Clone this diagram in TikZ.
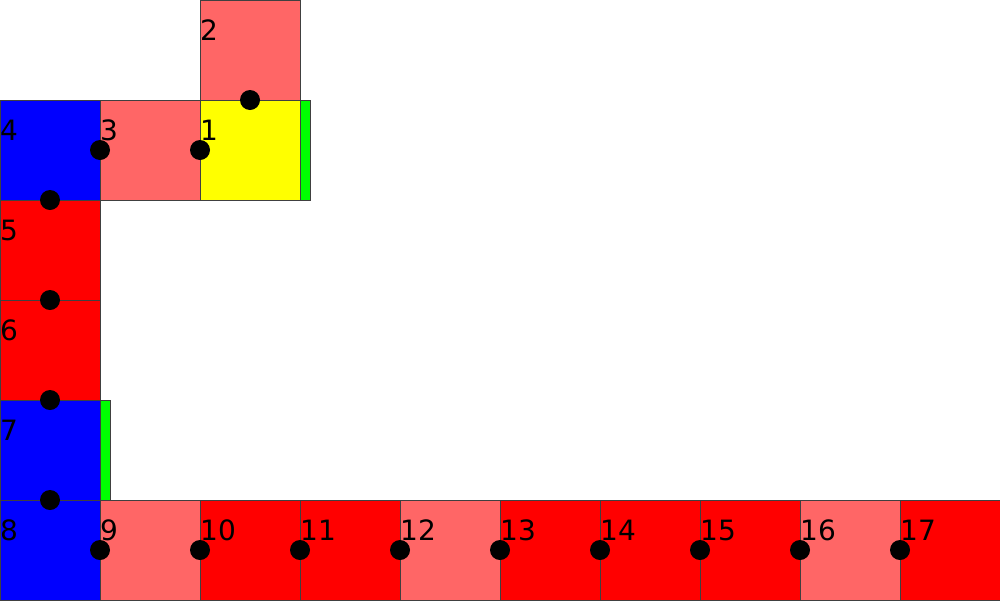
\documentclass[tikz,border=0pt]{standalone}
\usepackage{fontspec}
\setmainfont{DejaVu Sans}
\definecolor{lred}{HTML}{FF6666}
\definecolor{fred}{HTML}{FF0000}
\definecolor{fblue}{HTML}{0000FF}
\definecolor{fyel}{HTML}{FFFF00}
\definecolor{fgrn}{HTML}{00FF00}
\tikzset{
  cell/.style={draw=black!75, line width=1pt, minimum size=100pt, inner sep=0pt, outer sep=0pt, anchor=north west},
  bar/.style={draw=black!75, line width=1pt, minimum width=10pt, minimum height=100pt, inner sep=0pt, anchor=north west, fill=fgrn},
  lbl/.style={anchor=base west, inner sep=0pt, font=\fontsize{28}{30}\selectfont},
  dot/.style={circle, fill=black, minimum size=20pt, inner sep=0pt}
}
\begin{document}
\begin{tikzpicture}[x=1pt,y=-1pt]
\useasboundingbox (0,0) rectangle (1000,600);
% cells
\node[cell, fill=lred]  (c2) at (200,0) {};
\node[cell, fill=fblue] (c4) at (0,100) {};
\node[cell, fill=lred]  (c3) at (100,100) {};
\node[cell, fill=fyel]  (c1) at (200,100) {};
\node[bar] (g1) at (300,100) {};
\node[cell, fill=fred]  (c5) at (0,200) {};
\node[cell, fill=fred]  (c6) at (0,300) {};
\node[cell, fill=fblue] (c7) at (0,400) {};
\node[bar] (g7) at (100,400) {};
\node[cell, fill=fblue] (c8) at (0,500) {};
\node[cell, fill=lred]  (c9) at (100,500) {};
\node[cell, fill=fred]  (c10) at (200,500) {};
\node[cell, fill=fred]  (c11) at (300,500) {};
\node[cell, fill=lred]  (c12) at (400,500) {};
\node[cell, fill=fred]  (c13) at (500,500) {};
\node[cell, fill=fred]  (c14) at (600,500) {};
\node[cell, fill=fred]  (c15) at (700,500) {};
\node[cell, fill=lred]  (c16) at (800,500) {};
\node[cell, fill=fred]  (c17) at (900,500) {};
% labels
\foreach \n/\x/\y in {2/200/0,4/0/100,3/100/100,1/200/100,5/0/200,6/0/300,7/0/400,8/0/500,9/100/500,10/200/500,11/300/500,12/400/500,13/500/500,14/600/500,15/700/500,16/800/500,17/900/500}
  \node[lbl] (l\n) at (\x,\y+40) {\n};
% dots
\node[dot] (d1) at (250,100) {};
\node[dot] (d2) at (100,150) {};
\node[dot] (d3) at (200,150) {};
\node[dot] (d4) at (50,200) {};
\node[dot] (d5) at (50,300) {};
\node[dot] (d6) at (50,400) {};
\node[dot] (d7) at (50,500) {};
\foreach \i/\x in {8/100,9/200,10/300,11/400,12/500,13/600,14/700,15/800,16/900}
  \node[dot] (d\i) at (\x,550) {};
\end{tikzpicture}
\end{document}
